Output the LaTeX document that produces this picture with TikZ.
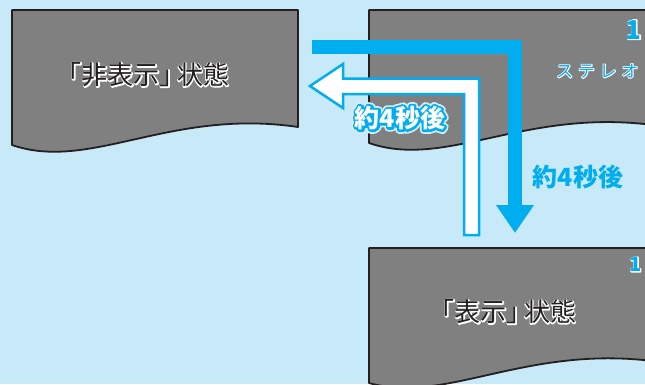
\documentclass[tikz,border=0pt]{standalone}
\usepackage{fontspec}
\setmainfont{Noto Sans CJK JP}
\usepackage{xcolor}
\usepackage{tikz}
\usetikzlibrary{positioning, arrows.meta}

\definecolor{bgblue}{HTML}{C7E9F8}
\definecolor{docgray}{HTML}{808080}
\definecolor{docline}{HTML}{231F20}
\definecolor{arrowcyan}{HTML}{00AEEF}

% halo under text: a stroked copy (#2 rgb, width #1) below the filled text
\newcommand\halo[3]{\rlap{\special{pdf:literal direct 1 Tr #2 RG #1 w 1 j}#3\special{pdf:literal direct 0 Tr 0.4 w 0 j}}}
\newcommand\outlinetext[3]{\halo{#1}{#2}{#3}#3}

\begin{document}
\begin{tikzpicture}[
    x=1pt, y=-1pt,
    every node/.style={inner sep=0pt},
    doc/.style={draw=docline, fill=docgray, line width=1.8pt, line join=round},
    statelabel/.style={font=\fontsize{26}{26}\selectfont\addfontfeature{RawFeature=+halt}, text=docline},
    steplabel/.style={font=\bfseries\fontsize{25}{25}\selectfont},
    numlabel/.style={font=\bfseries\fontsize{26}{26}\selectfont, text=arrowcyan},
    cyanarrow/.style={draw=arrowcyan, line width=14pt, line join=miter, -{Triangle[length=28pt, width=36pt]}},
    whitearrow/.style={draw=arrowcyan, fill=white, line width=2.5pt, line join=miter},
]
    \useasboundingbox (0,0) rectangle (645,384);
    \fill[bgblue] (0,0) rectangle (645,384);
    \clip (0,0) rectangle (645,384);

    % --- screens ---
    \draw[doc] (12,10) -- (298,10) -- (298,127)
        .. controls (170,108) and (90,172) .. (12,145) -- cycle;
    \draw[doc] (369,10) -- (660,10) -- (660,126)
        .. controls (527,106) and (447,170) .. (369,143) -- cycle;
    \draw[doc] (369,248) -- (660,248) -- (660,362)
        .. controls (527,343) and (447,405) .. (369,383) -- cycle;

    % --- screen texts ---
    \node[statelabel] (hidden) at (149,75) {\outlinetext{2}{1 1 1}{「非表示」\,状態}};
    \node[statelabel] (shown) at (509,312) {\outlinetext{2}{1 1 1}{「表示」\,状態}};
    \node[numlabel, anchor=north east] (num) at (642,20) {\outlinetext{2}{1 1 1}{1}};
    \node[font=\fontsize{17}{17}\selectfont, text=arrowcyan, anchor=west] (stereo) at (556,71)
        {\addfontfeature{LetterSpace=28}\outlinetext{1.8}{1 1 1}{ステレオ}};
    \node[font=\bfseries\fontsize{20}{20}\selectfont, text=arrowcyan, anchor=north east] (numb) at (642,257)
        {\outlinetext{1.8}{1 1 1}{1}};

    % --- arrows ---
    \coordinate (showstart) at (312,46.5);
    \coordinate (showend) at (515,233);
    \draw[cyanarrow] (showstart) -| (showend);

    \draw[whitearrow] (479,235) -- (479,78.5) -- (343,78.5) -- (343,64)
        -- (310,86) -- (343,108) -- (343,94) -- (464,94) -- (464,235) -- cycle;

    % --- arrow labels ---
    \node[steplabel, text=white] (hidelabel) at (400,118)
        {\halo{8}{0.84 0.93 0.98}{約4秒後}\outlinetext{4.5}{0 0.682 0.937}{約4秒後}};
    \node[steplabel, text=arrowcyan] (showlabel) at (578,177) {約4秒後};

\end{tikzpicture}
\end{document}
